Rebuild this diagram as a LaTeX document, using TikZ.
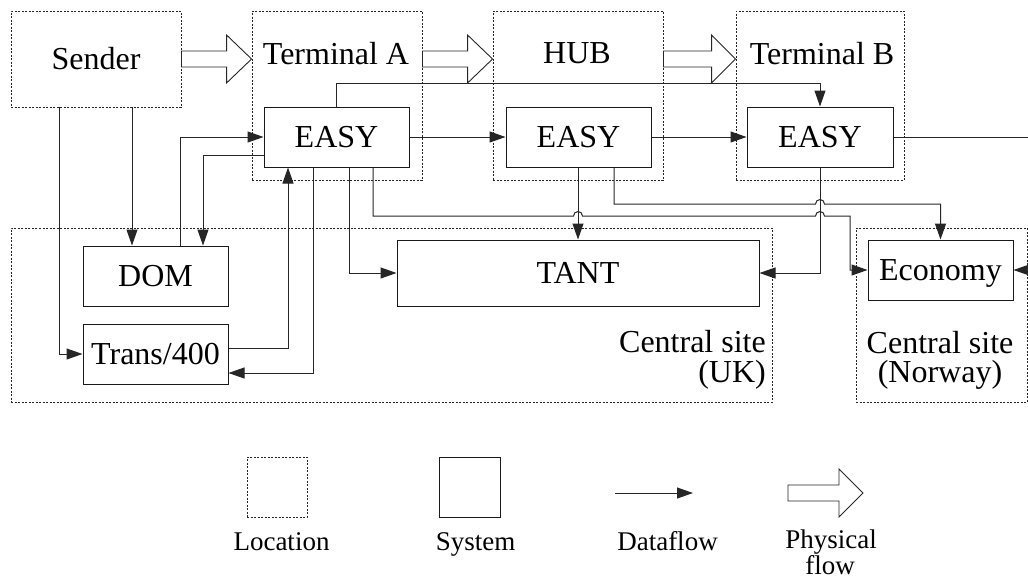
\documentclass[tikz,border=0pt]{standalone}
\usepackage{fontspec}
\setmainfont{Liberation Serif}
\usetikzlibrary{arrows.meta,calc}

\newcommand\bigfont{\fontsize{32}{38}\selectfont}
\newcommand\legfont{\fontsize{27}{32}\selectfont}

\tikzset{
  loc/.style={draw=black!85, dash pattern=on 2pt off 1.5pt, line width=0.9pt, inner sep=0pt},
  sys/.style={draw=black!90, line width=1pt, inner sep=0pt, text height=21.5pt, text depth=0pt, font=\bigfont},
  dflow/.style={draw=black!85, line width=1pt, -{Triangle[length=16pt,width=11pt]}},
  wire/.style={draw=black!85, line width=1pt},
  phys/.style={draw=black!85, line width=0.9pt, fill=white, line join=miter},
  lbl/.style={inner sep=0pt, anchor=base, font=\bigfont},
  leg/.style={inner sep=0pt, anchor=base, font=\legfont},
}

% hollow block arrow: start point, tip point (same height), head length
\newcommand\physarrow[3]{%
  \path[phys] let \p1=(#1), \p2=(#2) in
    (\x1,\y1+8pt) -- (\x2-#3,\y1+8pt) -- (\x2-#3,\y1+24pt) -- (\x2,\y1)
    -- (\x2-#3,\y1-24pt) -- (\x2-#3,\y1-8pt) -- (\x1,\y1-8pt) -- cycle;}

\begin{document}
\begin{tikzpicture}[x=1pt, y=-1pt]
\useasboundingbox (0,0) rectangle (1028,581);

% locations
\node[loc, minimum width=170pt, minimum height=96pt, font=\bigfont] (sender) at (96,59) {Sender};
\node[loc, minimum width=170pt, minimum height=169pt] (termA) at (337,95.5) {};
\node[lbl] (termAlbl) at (336,64) {Terminal A};
\node[loc, minimum width=170pt, minimum height=169pt] (hub) at (578,95.5) {};
\node[lbl] (hublbl) at (577,63) {HUB};
\node[loc, minimum width=168pt, minimum height=169pt] (termB) at (820,95.5) {};
\node[lbl] (termBlbl) at (822,64) {Terminal B};
\node[loc, minimum width=761pt, minimum height=174pt] (uk) at (391.5,315) {};
\node[lbl, anchor=base east] (uklbl1) at (766,352) {Central site};
\node[lbl, anchor=base east] (uklbl2) at (766,382) {(UK)};
\node[loc, minimum width=171pt, minimum height=174pt] (nor) at (941.5,315) {};
\node[lbl] (norlbl1) at (940,353) {Central site};
\node[lbl] (norlbl2) at (940,382) {(Norway)};

% systems
\node[sys, minimum width=145pt, minimum height=60pt] (easyA) at (336.5,137) {EASY};
\node[sys, minimum width=145pt, minimum height=60pt] (easyH) at (578.5,137) {EASY};
\node[sys, minimum width=146pt, minimum height=60pt] (easyB) at (820,137) {EASY};
\node[sys, minimum width=145pt, minimum height=60pt] (dom) at (155.5,276) {DOM};
\node[sys, minimum width=145pt, minimum height=60pt] (trans) at (155.5,354) {Trans/400};
\node[sys, minimum width=362pt, minimum height=66pt] (tant) at (578,273) {TANT};
\node[sys, minimum width=145pt, minimum height=60pt] (econ) at (940.5,270) {Economy};

% physical flows
\physarrow{sender.east}{termA.west |- sender.east}{25pt}
\physarrow{termA.east |- sender.east}{hub.west |- sender.east}{25pt}
\physarrow{hub.east |- sender.east}{termB.west |- sender.east}{24pt}

% dataflows
\coordinate (outB) at (1028,137);
\coordinate (inE) at (1028,270);
\draw[dflow] (132,0 |- sender.south) -- (132,0 |- dom.north);
\draw[dflow] (59,0 |- sender.south) |- (trans.west);
\draw[dflow] (180,0 |- dom.north) |- (easyA.west);
\draw[dflow] (easyA.west |- 0,155) -| (203,0 |- dom.north);
\draw[dflow] (trans.east |- 0,348) -| (288,0 |- easyA.south);
\draw[dflow] (313,0 |- easyA.south) |- (trans.east |- 0,373);
\draw[dflow] (349,0 |- easyA.south) |- (tant.west);
\draw[dflow] (373,0 |- easyA.south) -- (373,216) -- (573.5,216)
  arc[start angle=180, end angle=360, radius=4.5] -- (815.5,216)
  arc[start angle=180, end angle=360, radius=4.5] -- (850,216) |- (econ.west);
\draw[dflow] (easyA.north) -- (easyA.north |- 0,83) -| (easyB.north);
\draw[dflow] (easyA.east) -- (easyH.west);
\draw[dflow] (easyH.east) -- (easyB.west);
\draw[wire] (easyB.east) -- (outB);
\draw[dflow] (578,0 |- easyH.south) -- (tant.north);
\draw[dflow] (614,0 |- easyH.south) -- (614,204) -- (815.5,204)
  arc[start angle=180, end angle=360, radius=4.5] -| (econ.north);
\draw[dflow] (easyB.south) |- (tant.east);
\draw[dflow] (inE) -- (econ.east);

% legend
\node[loc, minimum width=60pt, minimum height=60pt] (legLoc) at (277,487) {};
\node[leg] (legLoclbl) at (281.5,550) {Location};
\node[sys, minimum width=61pt, minimum height=60pt] (legSys) at (469.5,487) {};
\node[leg] (legSyslbl) at (475.5,550) {System};
\coordinate (dfA) at (615,493);
\coordinate (dfB) at (693,493);
\draw[dflow] (dfA) -- (dfB);
\node[leg] (legDflbl) at (667.5,550) {Dataflow};
\coordinate (pfA) at (788,493);
\coordinate (pfB) at (863,493);
\physarrow{pfA}{pfB}{24pt}
\node[leg] (legPflbl1) at (831,548) {Physical};
\node[leg] (legPflbl2) at (830,574) {flow};
\end{tikzpicture}
\end{document}
